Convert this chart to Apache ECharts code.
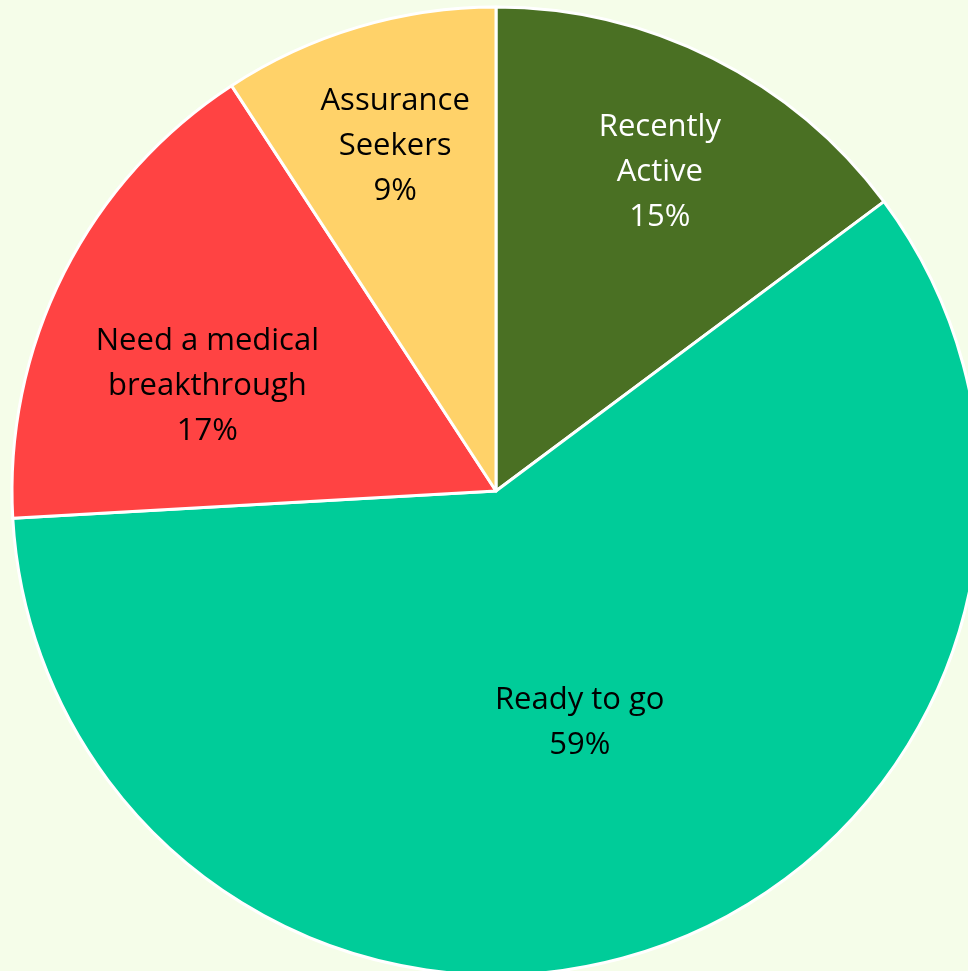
<!DOCTYPE html>
<html>
<head>
<meta charset="utf-8">
<script src="https://cdn.jsdelivr.net/npm/echarts@6/dist/echarts.min.js"></script>
<style>
html,body{margin:0;padding:0;background:#F5FDE9;}
#chart{width:968px;height:971px;}
</style>
</head>
<body>
<div id="chart"></div>
<script>
var categories = ["Recently\nActive", "Ready to go", "Need a medical\nbreakthrough", "Assurance\nSeekers"];
var values = [14.8, 59.3, 16.7, 9.2];
var colors = ["#4A7023", "#00CC99", "#FF4343", "#FFD269"];
var labelColors = ["#FFFFFF", "#000000", "#000000", "#000000"];
var labelOffsets = [[54, -100], [0, 1], [-70, 6], [-31, -110]];

var data = categories.map(function (c, i) {
  return {
    name: c,
    value: values[i],
    itemStyle: { color: colors[i] },
    label: { color: labelColors[i], offset: labelOffsets[i] }
  };
});

var chart = echarts.init(document.getElementById('chart'), null, { renderer: 'canvas' });
chart.setOption({
  backgroundColor: '#F5FDE9',
  animation: false,
  series: [{
    type: 'pie',
    center: [496, 491],
    radius: [0, 484],
    startAngle: 90,
    clockwise: true,
    percentPrecision: 0,
    avoidLabelOverlap: false,
    itemStyle: { borderColor: '#FFFFFF', borderWidth: 3 },
    label: {
      show: true,
      position: 'inside',
      formatter: '{b}\n{d}%',
      fontFamily: 'Open Sans',
      fontSize: 31,
      lineHeight: 45
    },
    labelLine: { show: false },
    emphasis: { disabled: true },
    data: data
  }]
});
</script>
</body>
</html>
